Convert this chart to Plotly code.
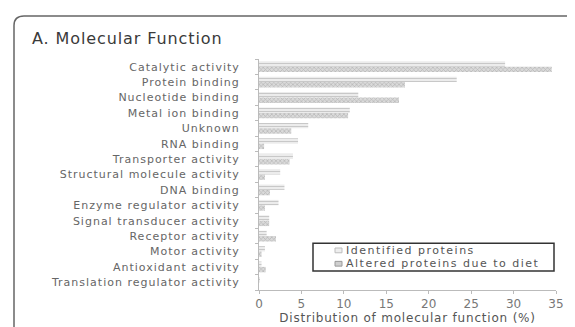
import plotly.graph_objects as go

categories = ["Catalytic activity", "Protein binding", "Nucleotide binding", "Metal ion binding",
              "Unknown", "RNA binding", "Transporter activity", "Structural molecule activity",
              "DNA binding", "Enzyme regulator activity", "Signal transducer activity",
              "Receptor activity", "Motor activity", "Antioxidant activity",
              "Translation regulator activity"]
identified = [29.0, 23.3, 11.7, 10.7, 5.8, 4.6, 4.0, 2.5, 3.0, 2.3, 1.2, 0.9, 0.7, 0.3, 0.1]
altered = [34.5, 17.2, 16.5, 10.5, 3.8, 0.6, 3.6, 0.7, 1.3, 0.7, 1.2, 2.0, 0.3, 0.8, 0.0]
series_names = ["Identified proteins", "Altered proteins due to diet"]
x_ticks = [0, 5, 10, 15, 20, 25, 30, 35]

FONT = "DejaVu Sans, Verdana, sans-serif"
W, H = 575, 327
L, R, T, B = 251, 27, 51, 34
pw, ph = W - L - R, H - T - B

def px(x):
    return (x - L) / pw

def py(y):
    return (H - B - y) / ph

def spaced(t, s):
    return f'<span style="letter-spacing:{s}px">{t}</span>'

id_marker = dict(color="#d8d8d8", line=dict(width=0),
                 pattern=dict(shape="-", fgcolor="#a0a0a0", bgcolor="#f0f0f0", size=3, solidity=0.4))
alt_marker = dict(color="#b0b0b0", line=dict(width=0),
                  pattern=dict(shape="x", fgcolor="#909090", bgcolor="#dadada", size=3, solidity=0.4))

fig = go.Figure()
fig.add_trace(go.Bar(y=categories, x=identified, orientation="h", name=series_names[0],
                     marker=id_marker, showlegend=False))
fig.add_trace(go.Bar(y=categories, x=altered, orientation="h", name=series_names[1],
                     marker=alt_marker, showlegend=False))

# rounded frame around the figure
r = 10
x0, x1, y0, y1 = 6, 569, 6, 340
path = (f"M {px(x0 + r)},{py(y0)} L {px(x1 - r)},{py(y0)} "
        f"Q {px(x1)},{py(y0)} {px(x1)},{py(y0 + r)} L {px(x1)},{py(y1)} "
        f"L {px(x0)},{py(y1)} L {px(x0)},{py(y0 + r)} Q {px(x0)},{py(y0)} {px(x0 + r)},{py(y0)} Z")
fig.add_shape(type="path", path=path, xref="paper", yref="paper",
              line=dict(color="#666666", width=1.5), layer="below")

# legend box (drawn by hand to match the compact original)
fig.add_shape(type="rect", xref="paper", yref="paper",
              x0=px(305), x1=px(546), y0=py(244), y1=py(273),
              line=dict(color="#333333", width=1.5), fillcolor="white", layer="above")
legend_rows = [251.5, 265.5]
legend_markers = [("#bdbdbd", "#eeeeee"), ("#9a9a9a", "#cfcfcf")]
for name, yy, (lc, fc) in zip(series_names, legend_rows, legend_markers):
    fig.add_shape(type="rect", xref="paper", yref="paper",
                  x0=px(327), x1=px(334), y0=py(yy + 2.5), y1=py(yy - 2.5),
                  line=dict(color=lc, width=1), fillcolor=fc, layer="above")
    fig.add_annotation(text=spaced(name, 1.5), xref="paper", yref="paper",
                       x=px(336), y=py(yy), xanchor="left", yanchor="middle",
                       showarrow=False, font=dict(family=FONT, size=11, color="#555555"))

fig.update_layout(
    width=W, height=H,
    margin=dict(l=L, r=R, t=T, b=B),
    paper_bgcolor="white", plot_bgcolor="white",
    barmode="group", bargap=0.3, bargroupgap=0.0,
    font=dict(family=FONT, color="#555555", size=11),
    title=dict(text=spaced("A. Molecular Function", 0.9), x=24 / W, xanchor="left", xref="container",
               y=1 - 30 / H, yanchor="middle", yref="container",
               font=dict(family=FONT, size=16, color="#3a3a3a")),
    xaxis=dict(range=[0, 35], tickvals=x_ticks, showgrid=False, zeroline=False,
               showline=True, linecolor="#bbbbbb", linewidth=1, ticks="outside",
               ticklen=3, tickcolor="#bbbbbb", tickfont=dict(family=FONT, size=12, color="#777777"),
               title=dict(text=spaced("Distribution of molecular function (%)", 0.8), standoff=3,
                          font=dict(family=FONT, size=12, color="#555555"))),
    yaxis=dict(categoryorder="array", categoryarray=categories, autorange="reversed",
               tickmode="array", tickvals=categories,
               ticktext=[spaced(c, 1.0) for c in categories],
               showgrid=False, showline=True, linecolor="#bbbbbb", linewidth=1,
               ticks="outside", ticklen=3, tickcolor="#bbbbbb", tickson="boundaries",
               ticklabelstandoff=16, tickfont=dict(family=FONT, size=11, color="#666666")),
    showlegend=False,
)

fig.write_html("out.html")
